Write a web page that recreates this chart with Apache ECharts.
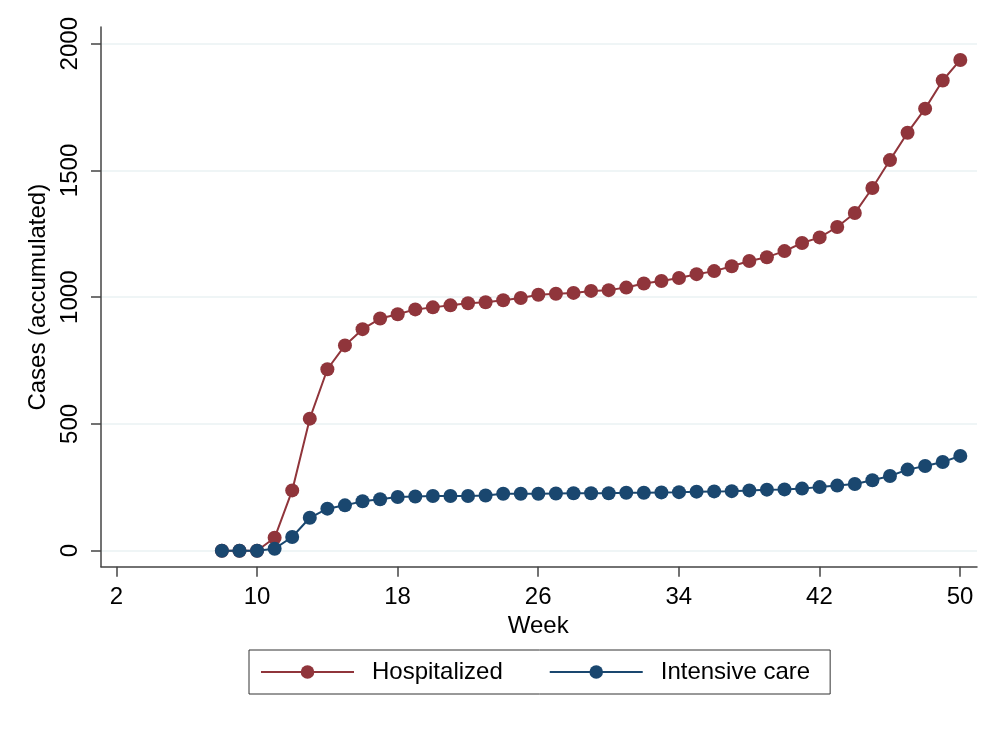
<!DOCTYPE html>
<html>
<head>
<meta charset="utf-8">
<script src="https://cdn.jsdelivr.net/npm/echarts@6/dist/echarts.min.js"></script>
<style>html,body{margin:0;padding:0;background:#fff}#c{width:1001px;height:731px}</style>
</head>
<body>
<div id="c"></div>
<script>
const weeks = [8,9,10,11,12,13,14,15,16,17,18,19,20,21,22,23,24,25,26,27,28,29,30,31,32,33,34,35,36,37,38,39,40,41,42,43,44,45,46,47,48,49,50];
const hospitalized = [0,0,0,51,238,521,716,810,874,916,933,952,960,968,976,980,988,997,1010,1014,1017,1025,1028,1038,1054,1064,1076,1091,1103,1122,1143,1158,1182,1214,1236,1277,1332,1431,1541,1649,1744,1855,1936];
const intensiveCare = [0,0,0,8,54,130,166,179,195,203,212,214,216,216,216,218,225,225,225,226,227,227,227,229,229,230,231,233,234,235,238,241,242,245,251,257,263,278,295,320,334,350,374];
const seriesNames = ['Hospitalized', 'Intensive care'];
const xTicks = {min: 2, max: 50, interval: 8};
const yTicks = {min: 0, max: 2000, interval: 500};

const FONT = '"Liberation Sans", Arial, sans-serif';
const AX = '#444';
const RED = '#90353B', BLUE = '#1A476F';

const chart = echarts.init(document.getElementById('c'), null, {renderer: 'canvas'});
chart.setOption({
  animation: false,
  backgroundColor: '#fff',
  textStyle: {fontFamily: FONT},
  grid: [
    {left: 101, right: 24, top: 27, bottom: 164.3},
    {left: 101, right: 24, top: 43.7, bottom: 180.3},
    {left: 116.4, right: 41, top: 27, bottom: 164.3}
  ],
  xAxis: [
    {gridIndex: 0, type: 'value', min: 1.124, max: 50.95,
     axisLine: {show: true, onZero: false, lineStyle: {color: AX, width: 1.5}},
     axisTick: {show: false}, axisLabel: {show: false}, splitLine: {show: false}},
    {gridIndex: 1, type: 'value', min: 0, max: 1, show: false},
    {gridIndex: 2, type: 'value', min: xTicks.min, max: xTicks.max, interval: xTicks.interval,
     name: 'Week', nameLocation: 'middle', nameGap: 43,
     nameTextStyle: {fontSize: 24, color: '#000', fontFamily: FONT},
     axisLine: {show: false},
     axisTick: {show: true, length: 10, lineStyle: {color: AX, width: 1.5}},
     axisLabel: {show: true, fontSize: 24, color: '#000', margin: 19, fontFamily: FONT,
                 formatter: v => String(v)},
     splitLine: {show: false}}
  ],
  yAxis: [
    {gridIndex: 0, type: 'value', min: -63, max: 2066,
     axisLine: {show: true, onZero: false, lineStyle: {color: AX, width: 1.5}},
     axisTick: {show: false}, axisLabel: {show: false}, splitLine: {show: false}},
    {gridIndex: 1, type: 'value', min: yTicks.min, max: yTicks.max, interval: yTicks.interval,
     name: 'Cases (accumulated)', nameLocation: 'middle', nameGap: 41,
     nameTextStyle: {fontSize: 24, color: '#000', fontFamily: FONT},
     axisLine: {show: false},
     axisTick: {show: true, length: 10, lineStyle: {color: AX, width: 1.5}},
     axisLabel: {show: true, rotate: 90, fontSize: 24, color: '#000', margin: 19, fontFamily: FONT,
                 formatter: v => String(v)},
     splitLine: {show: true, lineStyle: {color: '#EAF2F3', width: 1.5}}},
    {gridIndex: 2, type: 'value', min: 0, max: 1, show: false}
  ],
  legend: {
    show: true,
    data: seriesNames,
    left: 249, top: 650,
    orient: 'horizontal',
    padding: [10, 20, 10, 11],
    borderColor: '#333', borderWidth: 1,
    itemWidth: 93, itemHeight: 17, itemGap: 46,
    textStyle: {fontSize: 24, color: '#000', fontFamily: FONT, padding: [0, 0, 0, 13]}
  },
  series: [
    {name: seriesNames[0], type: 'line', xAxisIndex: 0, yAxisIndex: 0,
     data: weeks.map((w, i) => [w, hospitalized[i]]),
     symbol: 'circle', symbolSize: 14, showAllSymbol: true,
     lineStyle: {color: RED, width: 2}, itemStyle: {color: RED}, z: 3},
    {name: seriesNames[1], type: 'line', xAxisIndex: 0, yAxisIndex: 0,
     data: weeks.map((w, i) => [w, intensiveCare[i]]),
     symbol: 'circle', symbolSize: 14, showAllSymbol: true,
     lineStyle: {color: BLUE, width: 2}, itemStyle: {color: BLUE}, z: 4}
  ]
});
</script>
</body>
</html>
